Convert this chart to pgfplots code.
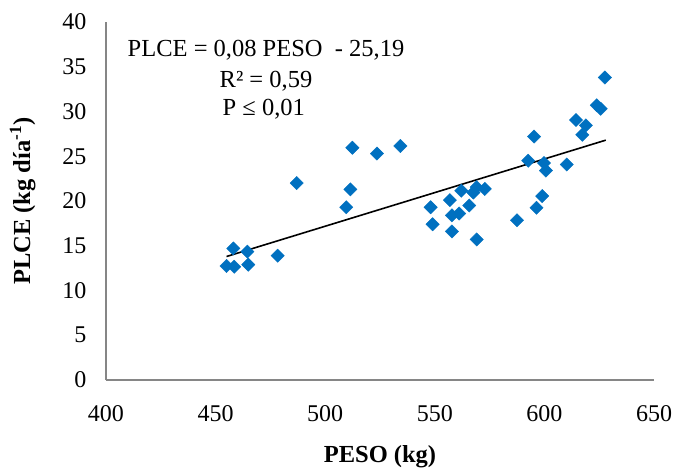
\documentclass[border=0pt]{standalone}
\usepackage{fontspec}
\setmainfont{Liberation Serif}
\usepackage{pgfplots}
\pgfplotsset{compat=1.18}
\definecolor{mblue}{RGB}{0,112,192}
\definecolor{axgrey}{RGB}{134,134,134}
\begin{document}
\begin{tikzpicture}
\useasboundingbox (-106pt,-92pt) rectangle (571pt,380pt);
\begin{axis}[
  at={(0pt,0pt)}, anchor=south west,
  scale only axis, width=548pt, height=358pt,
  xmin=400, xmax=650, ymin=0, ymax=40,
  xtick={400,450,...,650}, ytick={0,5,...,40},
  axis x line*=bottom, axis y line*=left,
  axis line style={draw=axgrey, line width=1.3pt},
  major tick length=0pt, tick style={draw=none},
  /pgf/number format/assume math mode=true,
  ticklabel style={font=\fontsize{24}{27}\selectfont},
  xticklabel style={yshift=-22pt},
  yticklabel style={xshift=-16pt},
  xlabel={PESO (kg)},
  ylabel={PLCE (kg día\textsuperscript{-1})},
  label style={font=\fontsize{24.5}{27}\selectfont\bfseries},
  xlabel style={at={(axis description cs:0.5,-0.215)}, anchor=center},
  ylabel style={at={(axis description cs:-0.152,0.5)}, anchor=center},
  clip=false,
]
\addplot[only marks, mark=square*, mark size=4.7pt,
  mark options={rotate=45, fill=mblue, draw=mblue}] coordinates {
(455.0,12.74) (458.1,14.7) (458.5,12.66) (464.5,14.34) (464.9,12.89) (478.3,13.89)
(487.0,22.0) (512.4,25.95) (523.6,25.3) (534.3,26.15) (511.5,21.3) (509.6,19.3)
(548.1,19.3) (549.0,17.4) (556.9,20.1) (557.8,18.4) (557.8,16.6) (561.1,18.6)
(562.1,21.15) (565.7,19.5) (567.6,20.95) (569.1,21.55) (572.8,21.35) (569.1,15.7)
(587.5,17.85) (592.6,24.5) (595.3,27.2) (596.4,19.25) (599.0,20.55) (599.8,24.25)
(600.7,23.4) (610.2,24.08) (614.4,29.05) (617.3,27.4) (618.9,28.45) (623.9,30.7)
(625.7,30.3) (627.6,33.8)
};
\addplot[black, line width=1.6pt] coordinates {(455,13.8) (628,26.8)};
\node[anchor=base, font=\fontsize{24.5}{27}\selectfont] at (axis cs:473,36.12) {PLCE = 0,08 PESO\ \ - 25,19};
\node[anchor=base, font=\fontsize{24.5}{27}\selectfont] at (axis cs:473,32.7) {R² = 0,59};
\node[anchor=base, font=\fontsize{24.5}{27}\selectfont] at (axis cs:472,29.6) {P ≤ 0,01};
\end{axis}
\end{tikzpicture}
\end{document}
